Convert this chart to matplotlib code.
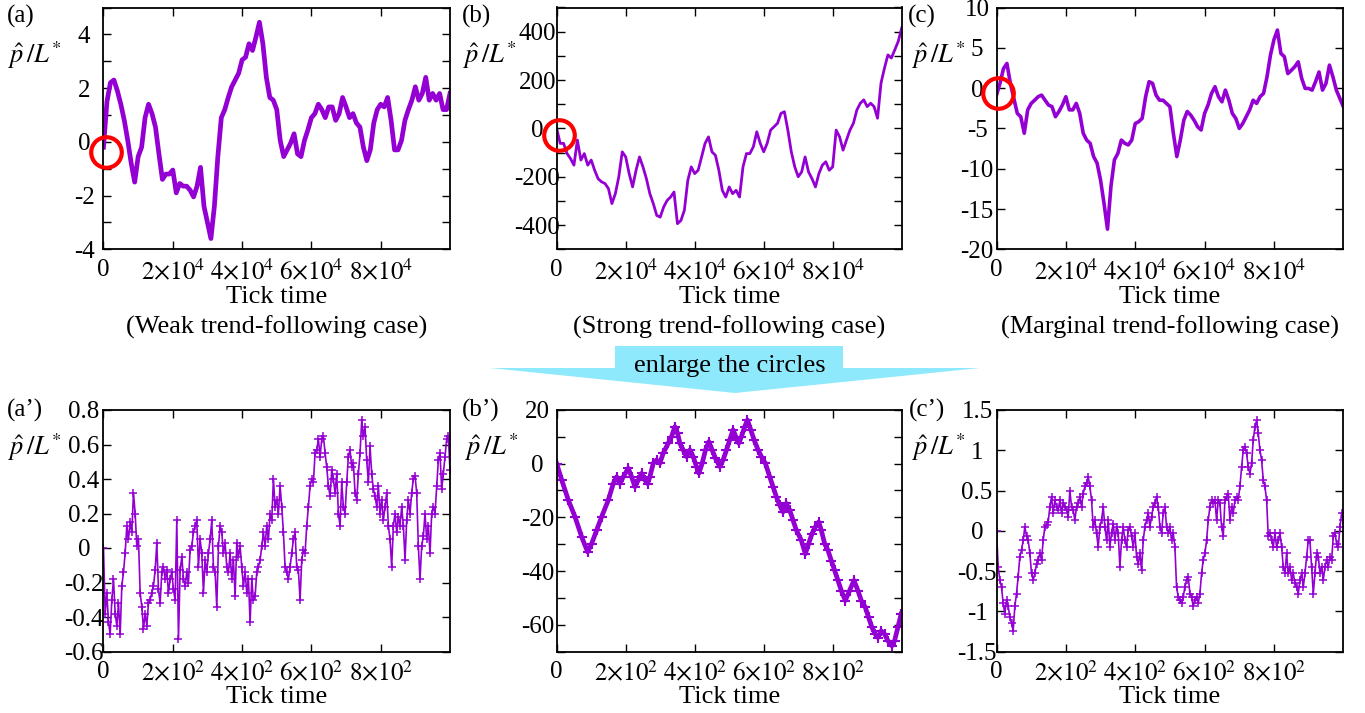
import numpy as np
import matplotlib
matplotlib.use("Agg")
import matplotlib.pyplot as plt
from matplotlib.patches import Polygon
from matplotlib.ticker import MultipleLocator, FixedLocator

plt.rcParams['font.family'] = ['Liberation Serif', 'DejaVu Serif']
plt.rcParams['mathtext.fontset'] = 'stix'

# ---------------- data ----------------
a_vals = [-0.2, 1.5, 2.2, 2.3, 1.9, 1.4, 0.8, 0.05, -0.8, -1.5, -0.55, -0.2, 0.9, 1.4, 1.05, 0.55,
          -0.45, -1.4, -1.2, -1.2, -1.05, -1.9, -1.55, -1.65, -1.65, -1.8, -2.05, -1.65, -0.95, -2.4,
          -3.0, -3.6, -2.4, -0.55, 0.9, 1.2, 1.65, 2.05, 2.3, 2.55, 3.05, 3.15, 3.65, 3.4, 3.9, 4.45,
          3.65, 2.4, 1.65, 1.55, 1.2, 0.05, -0.55, -0.3, -0.05, 0.3, -0.45, -0.55, 0.05, 0.45, 0.9,
          1.05, 1.4, 1.2, 0.9, 1.3, 1.3, 0.8, 1.05, 1.65, 1.3, 0.9, 1.05, 0.7, 0.55, -0.2, -0.7, -0.3,
          0.7, 1.2, 1.4, 1.3, 1.65, 0.8, -0.3, -0.3, 0.05, 0.8, 1.2, 1.55, 2.05, 1.55, 1.8, 2.4, 1.55,
          1.8, 1.55, 1.8, 1.2, 1.2, 1.8]
b_vals = [0, -62, -62, -104, -125, -152, -48, -131, -104, -152, -131, -173, -208, -221, -228, -249,
          -311, -270, -200, -97, -118, -187, -242, -173, -118, -159, -208, -270, -311, -360, -367,
          -325, -298, -284, -263, -394, -381, -339, -215, -159, -187, -173, -118, -62, -35, -97, -111,
          -173, -256, -284, -242, -270, -256, -284, -159, -104, -104, -76, -14, -62, -97, -62, -7, 7,
          21, 62, 69, -7, -97, -159, -200, -180, -118, -180, -208, -242, -187, -152, -138, -173, -159,
          -7, -35, -90, -48, -7, 21, 76, 104, 118, 90, 104, 90, 42, 187, 249, 304, 291, 325, 360, 415]
c_vals = [-0.87, 0.58, 2.4, 3.06, 0.58, -1.28, -3.14, -3.55, -5.6, -2.7, -1.9, -1.5, -1.07, -0.87,
          -1.5, -2.1, -2.3, -3.55, -2.9, -2.1, -1.07, -2.7, -2.7, -1.9, -3.14, -5.6, -6.45, -6.85,
          -8.5, -9.3, -11.4, -14.3, -17.5, -12.2, -8.9, -8.1, -6.45, -6.85, -7.05, -6.45, -4.4, -4.17,
          -3.76, -1.07, 0.8, 0.58, -0.87, -1.5, -1.5, -1.9, -2.3, -5.6, -8.5, -6.45, -4.0, -2.9, -3.35,
          -4.0, -4.8, -5.2, -3.14, -2.1, -0.66, 0.17, -1.07, -1.7, -0.25, -1.5, -3.14, -3.76, -5.0,
          -4.4, -3.55, -2.7, -1.5, -1.9, -1.07, -0.66, 1.4, 4.1, 6.0, 7.2, 4.3, 3.9, 1.8, 2.2, 2.65,
          3.26, 1.2, -0.04, -0.04, -0.25, 0.8, 2.0, -0.25, 0.58, 2.85, 1.4, -0.25, -1.28, -2.3]

a2_vals = [0.00, -0.38, -0.26, -0.43, -0.50, -0.30, -0.18, -0.38, -0.45, -0.32, -0.50, -0.22, -0.14,
           -0.03, 0.13, 0.05, 0.15, 0.09, 0.32, 0.20, 0.01, 0.05, -0.26, -0.34, -0.47, -0.38, -0.45,
           -0.32, -0.30, -0.26, -0.22, -0.13, 0.03, -0.24, -0.32, -0.14, -0.11, -0.18, -0.13, -0.26,
           -0.18, -0.14, -0.24, -0.30, 0.16, -0.53, -0.13, -0.05, -0.18, -0.22, -0.14, -0.20, -0.01,
           0.01, 0.09, 0.13, 0.16, -0.11, 0.05, -0.03, -0.26, -0.07, -0.14, -0.03, 0.05, 0.16, -0.11,
           -0.14, -0.34, 0.01, 0.13, 0.09, -0.03, 0.03, -0.11, -0.14, -0.03, -0.18, -0.07, -0.28, 0.03,
           -0.05, 0.01, -0.11, -0.22, -0.14, -0.26, -0.18, -0.43, -0.18, -0.30, -0.28, -0.14, -0.11,
           -0.07, 0.01, 0.09, 0.01, 0.13, 0.05, 0.20, 0.16, 0.40, 0.24, 0.28, 0.20, 0.36, 0.24, 0.09,
           -0.11, -0.14, -0.18, -0.11, -0.03, 0.05, 0.09, -0.11, -0.13, -0.30, -0.07, -0.01, -0.03,
           0.13, 0.24, 0.36, 0.40, 0.38, 0.55, 0.57, 0.63, 0.53, 0.63, 0.65, 0.55, 0.47, 0.36, 0.30,
           0.45, 0.40, 0.32, 0.43, 0.20, 0.13, 0.38, 0.24, 0.20, 0.38, 0.53, 0.57, 0.47, 0.49, 0.32,
           0.28, 0.43, 0.55, 0.74, 0.65, 0.70, 0.51, 0.38, 0.59, 0.43, 0.34, 0.30, 0.24, 0.36, 0.20,
           0.28, 0.16, 0.24, 0.32, 0.13, 0.05, -0.11, 0.13, 0.20, 0.09, 0.18, 0.13, 0.24, 0.13, -0.07,
           0.16, 0.28, 0.20, 0.32, 0.40, 0.42, 0.32, 0.01, -0.18, 0.01, 0.07, 0.20, 0.05, 0.13, -0.03,
           0.20, 0.24, 0.20, 0.36, 0.51, 0.55, 0.34, 0.43, 0.53, 0.63, 0.65, 0.45]

b2_t = [0, 14.5, 33.8, 53.1, 72.4, 89.7, 101.3, 115.8, 130.2, 149.5, 164, 173.7, 183.3, 193, 207.4,
        217.1, 226.7, 236.4, 246, 255.7, 263.4, 270.1, 279.8, 289.4, 299.1, 308.7, 323.2, 332.9,
        342.5, 350.2, 357, 366.6, 376.3, 385.9, 395.6, 405.2, 412, 421.6, 431.3, 440.9, 450.6, 460.2,
        472.8, 482.4, 492.1, 501.7, 511.3, 521, 527.7, 535.5, 545.1, 552.8, 562.5, 572.1, 583.7,
        593.4, 605, 617.5, 627.1, 636.8, 646.4, 656.1, 665.7, 675.4, 685, 694.7, 709.1, 720.7, 730.3,
        740, 749.6, 759.3, 767, 776.6, 786.3, 795.9, 805.6, 815.2, 824.9, 836.5, 849, 861.6, 873.1,
        882.8, 894.4, 904, 913.7, 923.3, 931.1, 940.7, 950.3, 960, 971.6, 979.3, 988.9, 998.5]
b2_vals = [0, -6.1, -13.6, -19.8, -27.3, -32.9, -29.8, -24.8, -19.8, -13.6, -7.4, -4.9, -7.4, -4.9,
           -1.7, -4.9, -8.6, -6.1, -3.6, -6.1, -7.4, -4.9, 0.1, 1.4, 0.1, 3.9, 7.6, 10.1, 13.8, 11.4,
           7.6, 5.1, 2.6, 5.1, 2.6, -1.1, -3.6, 0.1, 5.1, 8.2, 5.1, 2.0, -1.1, 1.4, 5.1, 8.9, 12.6,
           9.5, 7.6, 10.1, 13.8, 16.3, 12.6, 8.9, 5.1, 2.6, 0.1, -4.9, -8.6, -12.4, -15.5, -18.0,
           -14.8, -17.3, -21.1, -24.8, -28.6, -33.6, -29.8, -26.1, -23.6, -21.7, -24.8, -29.8, -32.3,
           -36.1, -39.8, -43.5, -47.3, -51.0, -47.3, -43.5, -47.3, -51.0, -53.5, -57.3, -61.0, -63.5,
           -64.8, -62.3, -63.5, -66.0, -67.9, -66.0, -61.0, -56.0]

c2_vals = [0.00, -0.45, -0.61, -0.70, -0.90, -1.03, -0.86, -0.94, -1.07, -1.15, -1.24, -0.94, -0.78,
           -0.57, -0.32, -0.24, -0.12, 0.05, -0.07, -0.12, -0.28, -0.53, -0.61, -0.53, -0.41, -0.36,
           -0.28, -0.36, -0.12, 0.05, 0.07, 0.11, 0.30, 0.42, 0.22, 0.38, 0.30, 0.26, 0.38, 0.22, 0.34,
           0.30, 0.26, 0.17, 0.50, 0.30, 0.26, 0.13, 0.30, 0.34, 0.42, 0.30, 0.46, 0.55, 0.59, 0.67,
           0.55, 0.38, 0.05, 0.13, -0.03, -0.20, 0.05, 0.13, 0.30, 0.05, -0.12, 0.13, -0.20, -0.03,
           0.09, -0.12, 0.05, -0.03, -0.45, -0.12, 0.05, -0.12, -0.20, 0.01, 0.05, -0.07, -0.20, -0.03,
           -0.32, -0.41, -0.28, -0.49, -0.12, 0.05, 0.13, 0.22, 0.05, 0.17, 0.30, 0.34, 0.42, 0.30,
           0.05, -0.03, 0.22, 0.30, 0.05, -0.03, 0.05, -0.12, -0.03, -0.20, -0.70, -0.82, -0.86, -0.90,
           -0.82, -0.70, -0.61, -0.57, -0.78, -0.82, -0.94, -0.86, -0.82, -0.90, -0.78, -0.53, -0.36,
           -0.28, -0.12, 0.13, 0.30, 0.38, 0.34, 0.38, 0.13, 0.38, 0.34, 0.05, -0.07, 0.38, 0.42, 0.46,
           0.13, 0.30, 0.22, 0.38, 0.42, 0.38, 0.55, 0.79, 1.00, 1.04, 0.96, 0.79, 0.71, 0.84, 1.13,
           1.29, 1.37, 1.21, 1.00, 0.88, 0.63, 0.55, 0.38, -0.07, -0.03, -0.12, -0.20, -0.03, -0.20,
           -0.12, -0.03, -0.20, -0.45, -0.53, -0.28, -0.53, -0.45, -0.61, -0.53, -0.65, -0.70, -0.78,
           -0.61, -0.53, -0.70, -0.53, -0.32, -0.12, -0.12, -0.45, -0.78, -0.53, -0.28, -0.32, -0.53,
           -0.45, -0.61, -0.45, -0.36, -0.45, -0.32, -0.36, -0.07, -0.03, -0.16, -0.20, 0.05, 0.22, 0.13]

top_xmax = 1.0e5
bot_xmax = 1000.0
top_xticks = [0, 2e4, 4e4, 6e4, 8e4]
top_xlabels = ['0', r'$2{\times}10^4$', r'$4{\times}10^4$', r'$6{\times}10^4$', r'$8{\times}10^4$']
bot_xticks = [0, 200, 400, 600, 800]
bot_xlabels = ['0', r'$2{\times}10^2$', r'$4{\times}10^2$', r'$6{\times}10^2$', r'$8{\times}10^2$']

# circle centres (data coords) marking the enlarged region
circle_a = (660, -0.37)
circle_b = (670, -26)
circle_c = (290, -0.66)

# ---------------- figure ----------------
W, H = 1365, 713
fig = plt.figure(figsize=(W / 100, H / 100), dpi=100)

PURPLE = '#9400D3'
TICKFS = 18


def ax_at(l, r, t, b):
    return fig.add_axes([l / W, 1 - b / H, (r - l) / W, (b - t) / H])


cols = [(103.5, 450.0), (556.7, 901.7), (996.5, 1343.3)]
top_tb = (7.5, 249.3)
bot_tb = (410.0, 651.5)


def style(ax, ylim, major, minor, ylabels, xticks, xlabels, xmax):
    ax.set_xlim(0, xmax)
    ax.set_ylim(*ylim)
    ax.yaxis.set_major_locator(FixedLocator(major))
    ax.set_yticklabels(ylabels)
    if minor is not None:
        ax.yaxis.set_minor_locator(MultipleLocator(minor))
    ax.xaxis.set_major_locator(FixedLocator(xticks))
    ax.set_xticklabels(xlabels)
    ax.tick_params(which='both', direction='in', top=True, right=True,
                   length=6, width=1.0, labelsize=TICKFS, color='black')
    ax.tick_params(axis='y', which='major', pad=14)
    ax.tick_params(axis='x', which='major', pad=7)
    for lab in ax.get_yticklabels():
        lab.set_horizontalalignment('center')
    for s in ax.spines.values():
        s.set_linewidth(1.3)


# (a)
ax = ax_at(cols[0][0], cols[0][1], *top_tb)
ax.plot(np.linspace(0, top_xmax, len(a_vals)), a_vals, color=PURPLE, lw=3.4)
style(ax, (-4, 5), [-4, -2, 0, 2, 4], 1, ['-4', '-2', '0', '2', '4'], top_xticks, top_xlabels, top_xmax)
ax.plot(*circle_a, 'o', ms=22, mfc='none', mec='red', mew=3.0, clip_on=False, zorder=5)

# (b)
ax = ax_at(cols[1][0], cols[1][1], *top_tb)
ax.plot(np.linspace(0, top_xmax, len(b_vals)), b_vals, color=PURPLE, lw=2.0)
style(ax, (-500, 500), [-400, -200, 0, 200, 400], 100, ['-400', '-200', '0', '200', '400'],
      top_xticks, top_xlabels, top_xmax)
ax.plot(*circle_b, 'o', ms=22, mfc='none', mec='red', mew=3.0, clip_on=False, zorder=5)

# (c)
ax = ax_at(cols[2][0], cols[2][1], *top_tb)
ax.plot(np.linspace(0, top_xmax, len(c_vals)), c_vals, color=PURPLE, lw=2.6)
style(ax, (-20, 10), [-20, -15, -10, -5, 0, 5, 10], None,
      ['-20', '-15', '-10', '-5', '0', '5', '10'], top_xticks, top_xlabels, top_xmax)
ax.plot(*circle_c, 'o', ms=22, mfc='none', mec='red', mew=3.0, clip_on=False, zorder=5)

# (a')
ax = ax_at(cols[0][0], cols[0][1], *bot_tb)
ax.plot(np.linspace(0, bot_xmax, len(a2_vals)), a2_vals, color=PURPLE, lw=1.2,
        marker='+', ms=6, mew=1.1)
style(ax, (-0.6, 0.8), [-0.6, -0.4, -0.2, 0, 0.2, 0.4, 0.6, 0.8], None,
      ['-0.6', '-0.4', '-0.2', '0', '0.2', '0.4', '0.6', '0.8'], bot_xticks, bot_xlabels, bot_xmax)

# (b')
ax = ax_at(cols[1][0], cols[1][1], *bot_tb)
ax.plot(b2_t, b2_vals, color=PURPLE, lw=3.4, marker='+', ms=7, mew=1.5)
style(ax, (-70, 20), [-60, -40, -20, 0, 20], 10, ['-60', '-40', '-20', '0', '20'],
      bot_xticks, bot_xlabels, bot_xmax)

# (c')
ax = ax_at(cols[2][0], cols[2][1], *bot_tb)
ax.plot(np.linspace(0, bot_xmax, len(c2_vals)), c2_vals, color=PURPLE, lw=1.2,
        marker='+', ms=6, mew=1.1)
style(ax, (-1.5, 1.5), [-1.5, -1, -0.5, 0, 0.5, 1, 1.5], None,
      ['-1.5', '-1', '-0.5', '0', '0.5', '1', '1.5'], bot_xticks, bot_xlabels, bot_xmax)

# ---------------- texts ----------------
def ftext(x, y, s, **kw):
    fig.text(x / W, 1 - y / H, s, **kw)

panel_tags = [("(a)", 7, 16), ("(b)", 462, 16), ("(c)", 908, 16),
              ("(a\u2019)", 7, 410), ("(b\u2019)", 462, 410), ("(c\u2019)", 909, 410)]
for s, x, y in panel_tags:
    ftext(x, y, s, fontsize=18, ha='left', va='center')

ylab = r'$\hat{p}\,/L^{*}$'
for x, y in [(8, 55), (463, 55), (912, 55), (8, 447), (465, 447), (912, 447)]:
    ftext(x, y, ylab, fontsize=19, ha='left', va='center')

for (l, r) in cols:
    cx = (l + r) / 2
    ftext(cx, 297, 'Tick time', fontsize=19, ha='center', va='center')
    ftext(cx, 697, 'Tick time', fontsize=19, ha='center', va='center')

cases = ['(Weak trend-following case)', '(Strong trend-following case)',
         '(Marginal trend-following case)']
for (l, r), s in zip(cols, cases):
    ftext((l + r) / 2, 327, s, fontsize=19, ha='center', va='center')

# arrow banner
arrow_px = [(615, 346), (843, 346), (843, 368), (980, 368), (735, 393), (490, 368), (615, 368)]
poly = Polygon([(x / W, 1 - y / H) for x, y in arrow_px], closed=True,
               transform=fig.transFigure, facecolor='#8FE9FC', edgecolor='none', zorder=0)
fig.add_artist(poly)
ftext(730, 366, 'enlarge the circles', fontsize=19, ha='center', va='center')

fig.savefig('out.png', dpi=100)
